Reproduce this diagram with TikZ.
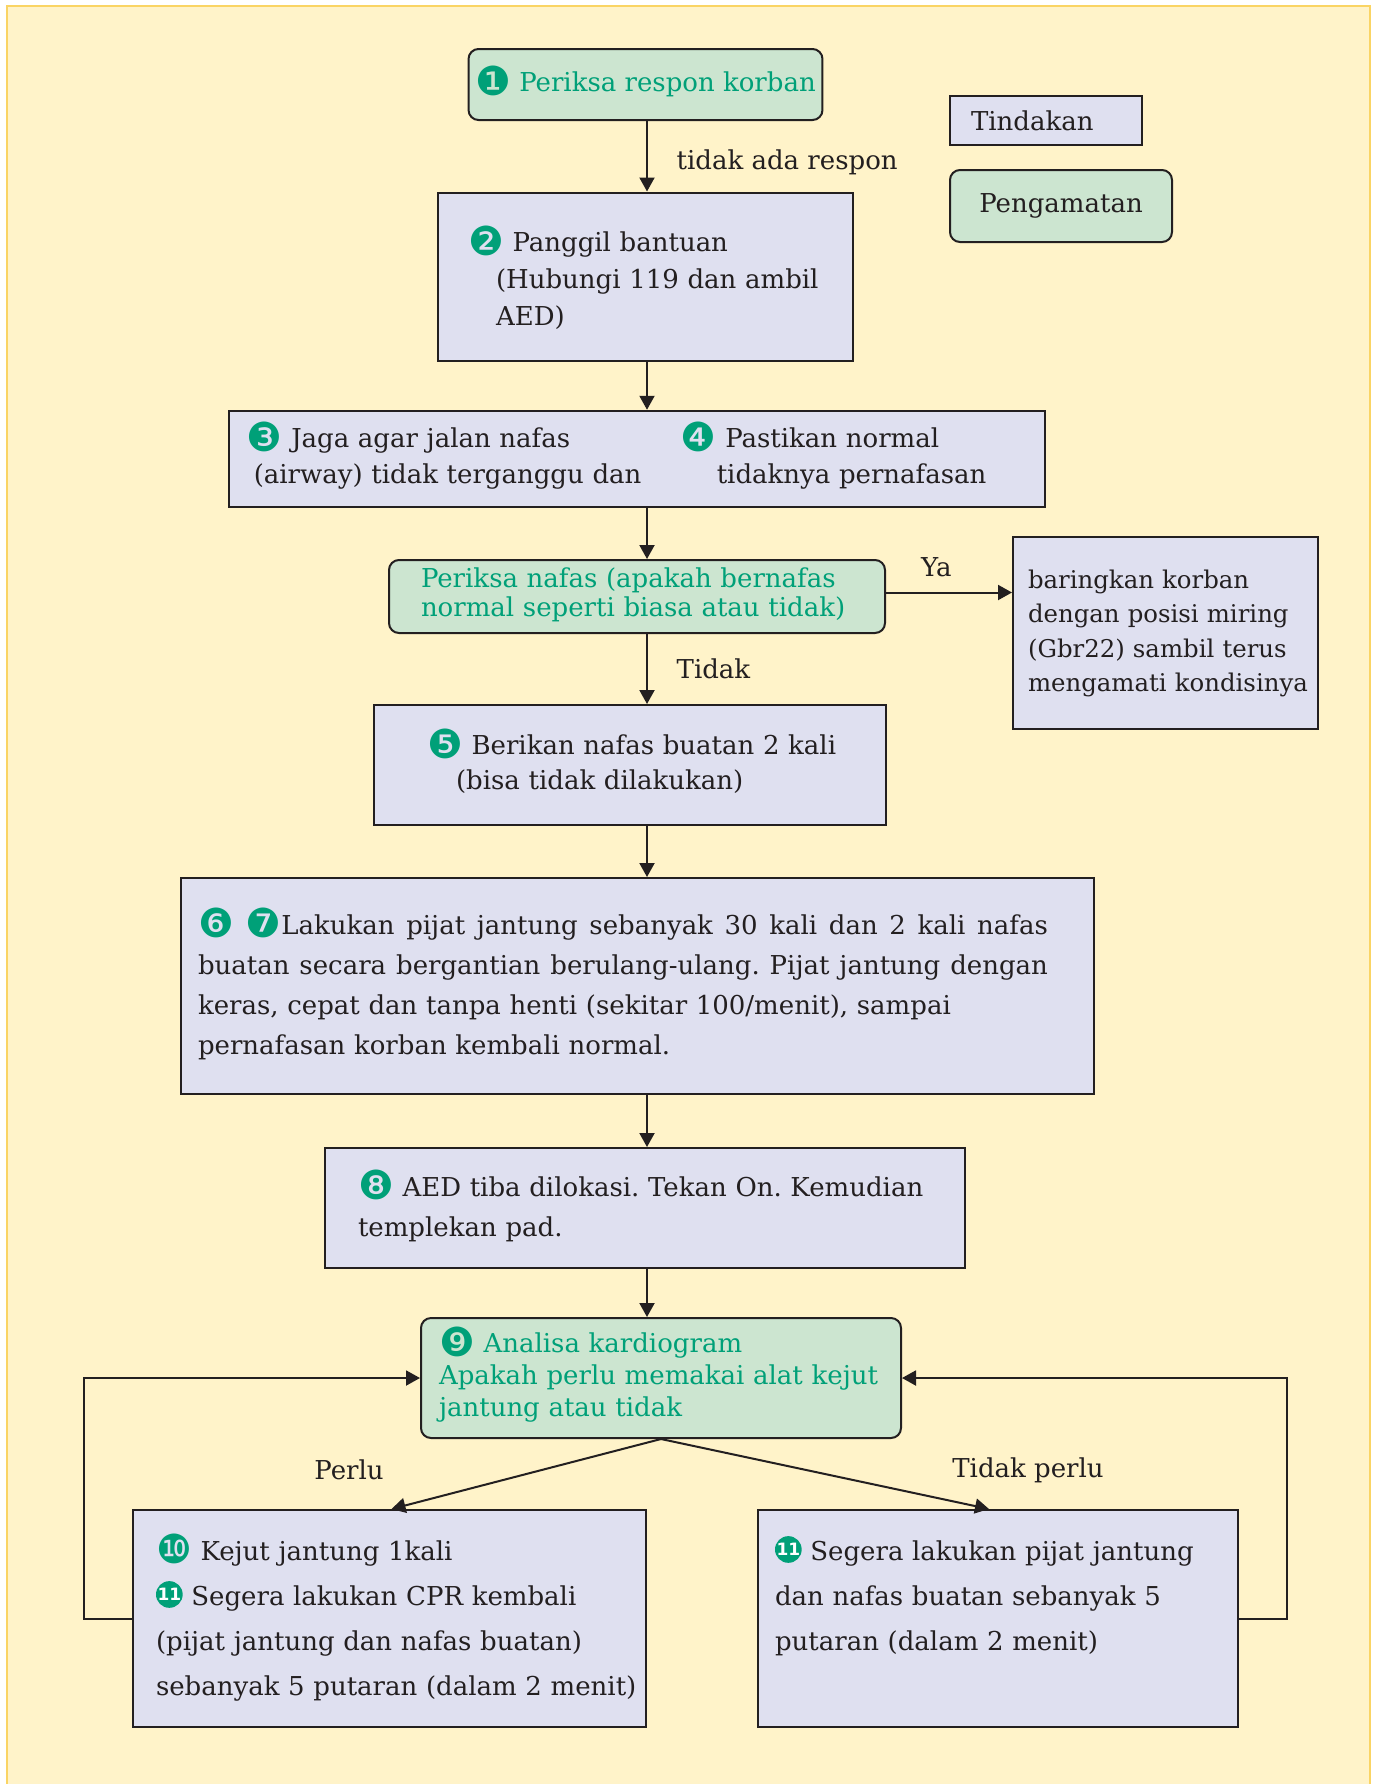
\documentclass[tikz,border=0pt]{standalone}
\usepackage{fontspec}
\setmainfont{DejaVu Serif}
\newfontfamily\dvsans{DejaVu Sans}
\usepackage{xcolor}
\usetikzlibrary{positioning,arrows.meta}

\definecolor{bgcol}{RGB}{255,243,201}
\definecolor{rimcol}{RGB}{250,212,100}
\definecolor{actfill}{RGB}{223,224,240}
\definecolor{obsfill}{RGB}{204,229,208}
\definecolor{obsgreen}{RGB}{0,160,120}
\definecolor{inkcol}{RGB}{35,31,32}
\newcommand{\fs}[1]{\fontsize{13}{#1}\selectfont\frenchspacing}
\newcommand{\cnum}[1]{\raisebox{-1.8pt}[0pt][0pt]{\dvsans\fontsize{20}{20}\selectfont\textcolor{obsgreen}{#1}}}
\newcommand{\elf}{\smash{\tikz[baseline={([yshift=1.6pt]n.south)}]\node[circle,fill=obsgreen,text=white,
	inner sep=0pt,minimum size=13.2pt,text width={},font=\dvsans\bfseries\fontsize{8.5}{8.5}\selectfont] (n) {11};}}
\newcommand{\lines}[1]{\begin{tabular}{@{}l@{}}#1\end{tabular}}
\newcommand{\spread}[1]{\makebox[425pt][s]{\spaceskip=\fontdimen2\font plus 1fil\relax #1}}

\begin{document}
\begin{tikzpicture}[x=0.5pt,y=-0.5pt,
	act/.style={draw=inkcol,fill=actfill,line width=1pt,inner ysep=0pt,align=left,text=inkcol},
	obs/.style={act,fill=obsfill,rounded corners=5pt,text=obsgreen},
	flow/.style={-{Triangle[length=7pt,width=7.5pt]},line width=1pt,color=inkcol},
	lbl/.style={text=inkcol,font=\fs{16}}]
	\useasboundingbox (0,0) rectangle (1372,1784);
	\fill[bgcol] (7,6) rectangle (1370,1784);
	\draw[rimcol,line width=1.2pt] (7,1784) -- (7,6) -- (1370,6) -- (1370,1784);
	\coordinate (col) at (647,0);
	% legenda
	\node[act,minimum height=24.5pt,inner xsep=10.5pt,text width=75pt,font=\fs{16}] (leg1) at (1046,120.5) {Tindakan};
	\node[obs,text=inkcol,minimum width=111pt,minimum height=36pt,font=\fs{16},
		below=11.5pt of leg1.south west,anchor=north west] (leg2) {Pengamatan};
	% alur utama
	\node[obs,minimum width=175.5pt,minimum height=35.5pt,font=\fs{16}] (b1) at (645.5,84.5) {\cnum{❶} Periksa respon korban};
	\node[act,minimum height=84pt,inner xsep=15.25pt,text width=177pt,font=\fs{18.5}] (b2) at (645,276.5)
		{\lines{\rule{0pt}{17.5pt}\cnum{❷} Panggil bantuan\\\hspace*{14pt}(Hubungi 119 dan ambil\\\hspace*{14pt}AED)}};
	\node[act,minimum height=48.25pt,inner xsep=9pt,text width=390.25pt,font=\fs{18}] (b34) at (637,459)
		{\parbox[t]{217pt}{\cnum{❸} Jaga agar jalan nafas\\\hspace*{3.5pt}(airway) tidak terganggu dan}%
		\parbox[t]{173pt}{\cnum{❹} Pastikan normal\\\hspace*{18pt}tidaknya pernafasan}};
	\node[obs,minimum height=36.5pt,inner xsep=16pt,text width=216pt,font=\fs{14.5}] (nafas) at (637,596.5)
		{\lines{Periksa nafas (apakah bernafas\\normal seperti biasa atau tidak)}};
	\node[act,minimum height=96pt,inner xsep=7.5pt,text width=137.5pt,font=\fontsize{12.2}{17.3}\selectfont] (bar) at (1165.5,633)
		{\lines{baringkan korban\\dengan posisi miring\\(Gbr22) sambil terus\\mengamati kondisinya}};
	\node[act,minimum height=60pt,inner xsep=26.5pt,text width=203pt,font=\fs{17.5}] (b5) at (630,765)
		{\lines{\cnum{❺} Berikan nafas buatan 2 kali\\\hspace*{14.5pt}(bisa tidak dilakukan)}};
	\node[act,minimum height=108pt,inner xsep=8.5pt,text width=439.5pt,font=\fs{20}] (b67) at (637.5,986)
		{\lines{\spread{\cnum{❻} \cnum{❼}Lakukan pijat jantung sebanyak 30 kali dan 2 kali nafas}\\
		\spread{buatan secara bergantian berulang-ulang. Pijat jantung dengan}\\
		keras, cepat dan tanpa henti (sekitar 100/menit), sampai\\
		pernafasan korban kembali normal.}};
	\node[act,minimum height=60pt,inner xsep=16.5pt,text width=287pt,font=\fs{20}] (b8) at (645,1208)
		{\lines{\cnum{❽} AED tiba dilokasi. Tekan On. Kemudian\\templekan pad.}};
	\node[obs,minimum height=60pt,inner xsep=9pt,text width=222pt,font=\fs{16}] (b9) at (661,1378)
		{\lines{\cnum{❾} Analisa kardiogram\\Apakah perlu memakai alat kejut\\jantung atau tidak}};
	\node[act,minimum height=108.5pt,inner xsep=11.5pt,text width=233.5pt,font=\fs{22.5}] (b10) at (389.5,1618.5)
		{\lines{\cnum{❿} Kejut jantung 1kali\\\elf{} Segera lakukan CPR kembali\\(pijat jantung dan nafas buatan)\\sebanyak 5 putaran (dalam 2 menit)}};
	\node[act,minimum height=108.5pt,inner xsep=8.5pt,text width=223pt,font=\fs{22.5}] (b11) at (998,1618.5)
		{\lines{\elf{} Segera lakukan pijat jantung\\dan nafas buatan sebanyak 5\\putaran (dalam 2 menit)\\\mbox{}}};
	% label cabang
	\node[lbl] (perlu) at (349,1470) {Perlu};
	\node[lbl] (tperlu) at (1028,1470) {Tidak perlu};
	% panah
	\path[flow]
	(b1.south -| col) edge node[lbl,right=11pt,yshift=-2.8pt] {tidak ada respon} (b2.north -| col)
	(b2.south -| col) edge (b34.north -| col)
	(b34.south -| col) edge (nafas.north -| col)
	(nafas.south -| col) edge node[lbl,right=11pt] {Tidak} (b5.north -| col)
	(b5.south -| col) edge (b67.north -| col)
	(b67.south -| col) edge (b8.north -| col)
	(b8.south -| col) edge (b9.north -| col)
	([yshift=2pt]nafas.east) edge node[lbl,pos=0.4,above=4pt] {Ya} ([yshift=2pt]nafas.east -| bar.west)
	(b9.south) edge ([xshift=1pt]b10.north)
	(b9.south) edge ([xshift=-4.5pt]b11.north);
	\draw[flow] (b10.west) -- ++(-48,0) |- (b9.west);
	\draw[flow] (b11.east) -- ++(48,0) |- (b9.east);
\end{tikzpicture}
\end{document}
